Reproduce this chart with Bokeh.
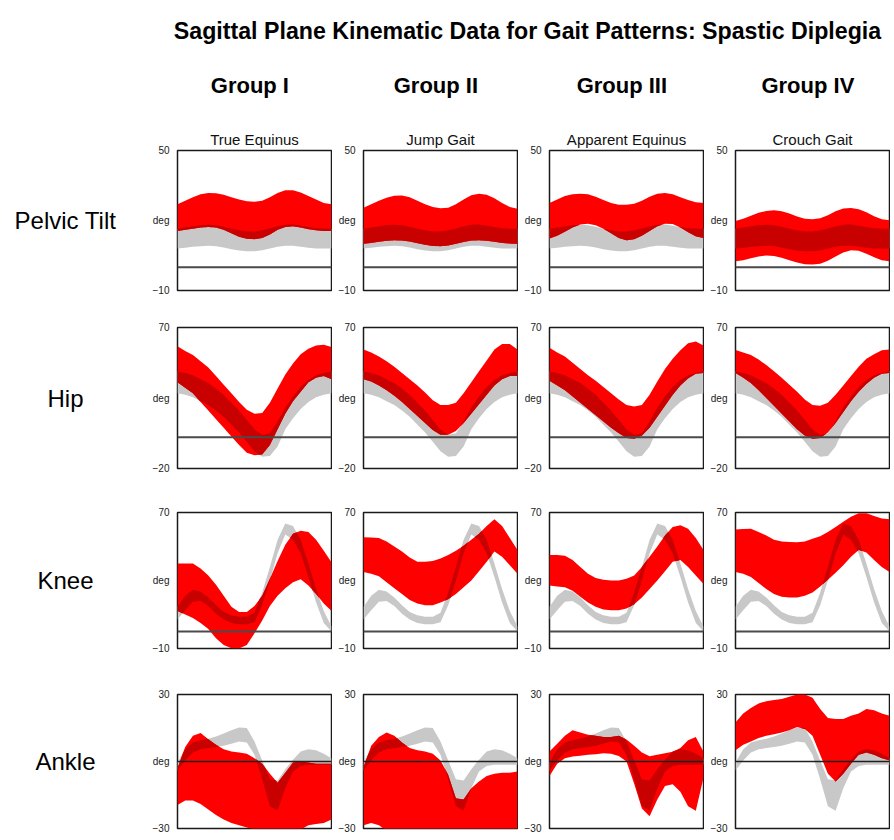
import numpy as np
from bokeh.plotting import figure
from bokeh.layouts import row, column
from bokeh.models import Range1d, FixedTicker, Span, Title, Spacer
from bokeh.embed import file_html
from bokeh.resources import INLINE
from bokeh.core.properties import value

# ---------------- data (percent of gait cycle, degrees) ----------------
pct = [0, 5, 10, 15, 20, 25, 30, 35, 40, 45, 50, 55, 60, 65, 70, 75, 80, 85, 90, 95, 100]

groups = ["Group I", "Group II", "Group III", "Group IV"]
patterns = ["True Equinus", "Jump Gait", "Apparent Equinus", "Crouch Gait"]
joints = ["Pelvic Tilt", "Hip", "Knee", "Ankle"]
y_limits = [(-10, 50), (-20, 70), (-10, 70), (-30, 30)]
deg_ticks = [20, 25, 30, 0]

# Pelvic tilt
pelvic_norm_hi = [16.5, 17.0, 17.5, 18.0, 18.2, 18.0, 17.3, 16.5, 15.8, 15.3, 15.3, 15.8, 16.6, 17.5, 18.2, 18.3, 17.8, 17.2, 16.7, 16.5, 16.5]
pelvic_norm_lo = [8.0, 8.3, 8.7, 9.0, 9.2, 9.0, 8.4, 7.7, 7.1, 6.8, 6.8, 7.2, 8.0, 8.8, 9.2, 9.2, 8.8, 8.3, 8.0, 8.0, 8.0]
pelvic_g1_hi = [27.0, 28.5, 30.0, 31.3, 31.8, 31.7, 31.0, 30.0, 29.0, 28.2, 28.0, 28.5, 30.0, 31.8, 33.0, 33.0, 32.0, 30.5, 29.0, 27.5, 27.0]
pelvic_g1_lo = [15.5, 16.0, 16.5, 17.0, 17.2, 17.0, 16.0, 14.5, 13.0, 12.2, 12.0, 12.5, 14.0, 16.0, 17.2, 17.5, 17.0, 16.3, 15.8, 15.5, 15.5]
pelvic_g2_hi = [25.5, 27.0, 28.5, 29.8, 30.6, 30.7, 30.0, 28.5, 27.0, 25.8, 25.2, 25.5, 27.0, 29.0, 30.8, 31.5, 31.0, 29.5, 27.5, 25.8, 25.0]
pelvic_g2_lo = [10.0, 10.4, 10.9, 11.3, 11.5, 11.4, 11.0, 10.3, 9.6, 9.1, 9.0, 9.3, 10.0, 10.8, 11.4, 11.5, 11.3, 10.9, 10.4, 10.1, 10.0]
pelvic_g3_hi = [27.5, 29.0, 30.5, 31.3, 31.5, 31.2, 30.2, 28.8, 27.5, 26.8, 26.7, 27.2, 28.5, 30.2, 31.5, 31.8, 31.2, 30.0, 28.8, 27.8, 27.5]
pelvic_g3_lo = [12.3, 13.5, 15.2, 17.0, 18.3, 18.6, 18.0, 16.5, 14.5, 12.5, 11.5, 12.0, 13.5, 15.5, 17.5, 18.6, 18.5, 17.0, 15.0, 13.2, 12.5]
pelvic_g4_hi = [19.8, 20.7, 22.0, 23.3, 24.1, 24.4, 24.0, 23.0, 21.7, 20.8, 20.5, 21.0, 22.3, 24.0, 25.1, 25.4, 24.8, 23.5, 21.8, 20.5, 20.1]
pelvic_g4_lo = [2.5, 3.0, 3.8, 4.6, 5.0, 4.8, 4.0, 3.0, 2.0, 1.3, 1.1, 1.5, 2.8, 4.6, 6.3, 7.2, 7.0, 5.8, 4.3, 3.0, 2.5]

# Hip
hip_norm_hi = [42.0, 41.0, 39.5, 37.0, 34.5, 31.0, 27.0, 22.0, 17.0, 11.0, 5.0, 1.5, 2.5, 10.0, 19.0, 26.0, 32.0, 36.5, 39.5, 41.0, 42.0]
hip_norm_lo = [28.0, 27.0, 25.5, 23.0, 20.5, 17.0, 13.0, 8.0, 3.0, -3.0, -9.0, -12.5, -12.0, -6.0, 5.0, 12.0, 18.0, 22.5, 25.5, 27.0, 28.0]
hip_g1_hi = [58.0, 55.0, 52.5, 48.5, 44.5, 39.0, 33.5, 28.0, 22.5, 17.5, 15.0, 15.5, 22.0, 31.0, 40.0, 47.0, 53.0, 56.5, 58.5, 59.0, 57.5]
hip_g1_lo = [35.0, 31.5, 28.0, 22.5, 17.0, 11.5, 6.0, 0.5, -5.0, -10.0, -11.5, -11.0, -5.0, 5.0, 15.0, 23.0, 29.0, 35.0, 38.0, 39.0, 37.0]
hip_g2_hi = [56.0, 54.0, 51.5, 48.5, 45.0, 41.0, 37.0, 33.0, 28.5, 23.5, 20.5, 20.5, 22.0, 28.0, 35.0, 42.0, 49.0, 56.0, 59.5, 59.5, 56.0]
hip_g2_lo = [37.0, 35.5, 33.0, 30.0, 26.5, 22.5, 18.0, 13.5, 9.0, 4.5, 1.5, 1.5, 4.0, 9.0, 15.0, 21.0, 27.0, 33.0, 37.0, 39.0, 39.0]
hip_g3_hi = [57.0, 54.0, 51.5, 47.5, 43.5, 39.5, 36.0, 32.0, 28.0, 24.0, 20.5, 19.5, 20.5, 27.0, 35.5, 43.5, 50.0, 55.5, 60.0, 61.0, 58.5]
hip_g3_lo = [36.0, 33.0, 30.0, 26.0, 22.0, 18.0, 14.0, 10.0, 6.0, 2.5, -0.5, -1.0, 1.0, 6.0, 13.0, 20.0, 27.0, 33.0, 37.5, 40.5, 41.0]
hip_g4_hi = [55.7, 54.0, 52.5, 49.5, 46.0, 42.0, 38.0, 33.5, 29.0, 24.0, 20.5, 20.0, 22.0, 27.0, 33.0, 39.0, 45.0, 50.0, 53.0, 55.5, 56.0]
hip_g4_lo = [41.0, 38.0, 34.5, 30.0, 25.0, 20.0, 15.0, 10.0, 5.0, 1.0, -1.0, -0.5, 3.0, 9.0, 16.0, 23.0, 29.0, 34.0, 38.0, 40.5, 41.0]

# Knee
knee_norm_hi = [14.5, 21.0, 24.5, 23.5, 20.0, 15.5, 11.5, 9.5, 8.7, 8.7, 11.0, 23.0, 38.0, 54.0, 63.5, 62.0, 54.0, 40.0, 25.0, 12.0, 3.0]
knee_norm_lo = [7.0, 12.5, 17.5, 18.0, 15.0, 10.5, 7.0, 5.0, 4.3, 4.3, 5.5, 15.5, 30.0, 46.0, 57.0, 54.0, 46.0, 32.0, 17.0, 5.0, 0.0]
knee_g1_hi = [40.0, 40.0, 40.0, 37.0, 33.0, 27.5, 21.0, 14.5, 11.5, 11.5, 15.0, 21.0, 31.0, 41.5, 51.0, 57.5, 59.3, 58.5, 54.0, 47.5, 40.7]
knee_g1_lo = [12.0, 10.0, 8.0, 5.0, 1.5, -4.0, -8.0, -9.8, -10.0, -8.0, -1.0, 6.5, 15.0, 21.0, 25.5, 29.0, 30.8, 27.0, 22.0, 16.5, 12.0]
knee_g2_hi = [55.5, 55.3, 55.0, 53.0, 50.0, 47.0, 43.5, 41.0, 41.0, 41.5, 43.0, 45.0, 47.5, 50.5, 54.0, 57.5, 62.0, 66.0, 62.0, 55.0, 48.0]
knee_g2_lo = [35.0, 34.0, 32.5, 29.0, 25.5, 22.0, 18.5, 16.5, 15.5, 15.5, 17.0, 19.0, 22.0, 26.0, 30.0, 35.5, 41.0, 47.0, 44.0, 39.0, 34.0]
knee_g3_hi = [45.0, 45.0, 44.5, 42.0, 38.0, 34.0, 31.5, 30.5, 30.0, 30.0, 31.0, 33.0, 38.0, 44.0, 50.0, 56.5, 61.5, 62.5, 60.5, 55.0, 48.0]
knee_g3_lo = [27.0, 26.5, 26.0, 24.0, 20.5, 17.0, 14.5, 13.0, 12.5, 12.5, 13.5, 16.0, 20.0, 25.0, 30.0, 35.5, 41.0, 42.0, 38.0, 33.0, 28.0]
knee_g4_hi = [60.0, 60.3, 60.4, 58.5, 56.5, 54.0, 53.0, 52.6, 52.5, 53.0, 54.5, 56.0, 58.5, 61.5, 64.5, 67.5, 69.5, 69.5, 68.0, 66.5, 66.0]
knee_g4_lo = [35.0, 34.0, 32.0, 28.5, 25.0, 22.0, 20.5, 20.0, 20.0, 21.0, 23.0, 26.5, 30.5, 34.5, 39.0, 44.0, 48.0, 46.5, 42.0, 38.0, 35.0]

# Ankle
ankle_norm_hi = [-0.5, 5.5, 8.5, 9.5, 10.2, 11.2, 12.5, 14.0, 15.2, 15.0, 9.0, 0.5, -8.0, -8.5, -3.5, 0.8, 4.5, 5.5, 5.0, 3.5, 1.5]
ankle_norm_lo = [-4.0, 0.5, 4.0, 5.5, 6.0, 6.5, 7.0, 8.0, 9.0, 8.5, 3.0, -8.0, -20.0, -22.0, -12.0, -4.5, -2.0, -1.5, -1.5, -1.5, -1.5]
ankle_g1_hi = [-3.0, 6.5, 11.5, 12.8, 10.0, 7.5, 5.5, 4.5, 4.0, 3.5, 1.5, -1.0, -5.5, -9.5, -5.0, -0.5, 0.0, -0.5, -1.0, -1.0, -1.0]
ankle_g1_lo = [-19.5, -17.5, -17.5, -19.0, -21.5, -24.0, -26.0, -27.5, -28.5, -29.5, -30.5, -31.0, -31.0, -31.0, -31.0, -31.0, -30.5, -28.5, -28.0, -27.5, -26.0]
ankle_g2_hi = [-2.5, 7.0, 11.0, 13.0, 11.5, 8.5, 6.0, 5.0, 4.5, 3.5, 0.5, -6.0, -16.5, -17.0, -12.0, -9.0, -6.5, -5.5, -5.0, -5.0, -4.5]
ankle_g2_lo = [-28.5, -27.5, -28.5, -31.0, -32.0, -32.0, -32.0, -32.0, -32.0, -32.0, -32.0, -32.0, -32.0, -32.0, -32.0, -32.0, -32.0, -32.0, -32.0, -32.0, -32.0]
ankle_g3_hi = [4.5, 8.0, 11.5, 14.0, 13.0, 12.0, 11.5, 11.0, 11.0, 11.5, 9.8, 7.0, 4.0, 2.3, 3.0, 3.7, 4.4, 6.0, 9.5, 11.0, 4.4]
ankle_g3_lo = [-6.5, -1.0, 1.5, 2.2, 2.6, 3.0, 3.3, 3.7, 3.5, 2.5, 0.0, -10.0, -21.0, -24.5, -17.0, -11.0, -10.2, -13.5, -20.0, -22.0, -7.3]
ankle_g4_hi = [17.5, 21.5, 24.0, 26.0, 27.0, 27.5, 28.0, 29.0, 30.0, 30.0, 28.5, 23.5, 19.5, 19.0, 19.0, 20.5, 21.5, 23.5, 23.0, 21.5, 20.5]
ankle_g4_lo = [5.0, 7.5, 9.0, 10.5, 11.5, 12.2, 13.0, 14.0, 15.5, 14.5, 11.5, 3.0, -5.5, -9.0, -5.5, -1.0, 3.0, 4.0, 3.0, 1.5, 0.5]

normals = [
    (pelvic_norm_lo, pelvic_norm_hi),
    (hip_norm_lo, hip_norm_hi),
    (knee_norm_lo, knee_norm_hi),
    (ankle_norm_lo, ankle_norm_hi),
]
patients = [
    [(pelvic_g1_lo, pelvic_g1_hi), (pelvic_g2_lo, pelvic_g2_hi), (pelvic_g3_lo, pelvic_g3_hi), (pelvic_g4_lo, pelvic_g4_hi)],
    [(hip_g1_lo, hip_g1_hi), (hip_g2_lo, hip_g2_hi), (hip_g3_lo, hip_g3_hi), (hip_g4_lo, hip_g4_hi)],
    [(knee_g1_lo, knee_g1_hi), (knee_g2_lo, knee_g2_hi), (knee_g3_lo, knee_g3_hi), (knee_g4_lo, knee_g4_hi)],
    [(ankle_g1_lo, ankle_g1_hi), (ankle_g2_lo, ankle_g2_hi), (ankle_g3_lo, ankle_g3_hi), (ankle_g4_lo, ankle_g4_hi)],
]

# ---------------- style / geometry ----------------
FONT = "Liberation Sans"
RED = "#ff0000"
GREY = "#c8c8c8"
DARK = "#c80000"
LABEL_W = 146
PANEL_W = 186
BL, BR = 31, 1
TITLE_H = 56
HEADER_H = 68
row_geom = [(26, 140, 31), (6, 141, 38), (6, 136, 40), (6, 134, 10)]  # top border, frame, bottom border

fine = np.linspace(0, 100, 801)


def overlap(a_lo, a_hi, b_lo, b_hi):
    lo = np.maximum(np.interp(fine, pct, a_lo), np.interp(fine, pct, b_lo))
    hi = np.minimum(np.interp(fine, pct, a_hi), np.interp(fine, pct, b_hi))
    return lo, np.maximum(hi, lo)


def blank_fig(width, height, **kw):
    p = figure(width=width, height=height, x_range=Range1d(0, 1), y_range=Range1d(0, 1),
               output_backend="svg", toolbar_location=None,
               x_axis_location=None, y_axis_location=None, **kw)
    p.outline_line_color = None
    p.grid.visible = False
    return p


def make_panel(r, c):
    top, fh, bot = row_geom[r]
    lo, hi = y_limits[r]
    p = figure(width=PANEL_W, height=top + fh + bot,
               x_range=Range1d(0, 100), y_range=Range1d(lo, hi),
               output_backend="svg", toolbar_location=None, x_axis_location=None,
               min_border_left=BL, min_border_right=BR,
               min_border_top=top, min_border_bottom=bot)
    p.grid.visible = False
    p.outline_line_color = "#1a1a1a"
    p.outline_line_width = 1.5
    ax = p.yaxis[0]
    ax.ticker = FixedTicker(ticks=[lo, deg_ticks[r], hi])
    ax.major_label_overrides = {deg_ticks[r]: "deg"}
    ax.axis_line_color = None
    ax.major_tick_line_color = None
    ax.minor_tick_line_color = None
    ax.major_label_standoff = 2
    ax.major_label_text_font = FONT
    ax.major_label_text_font_size = "10px"
    ax.major_label_text_color = "#1a1a1a"

    n_lo, n_hi = normals[r]
    g_lo, g_hi = patients[r][c]
    p.varea(x=pct, y1=n_lo, y2=n_hi, fill_color=GREY)
    p.varea(x=pct, y1=g_lo, y2=g_hi, fill_color=RED)
    o_lo, o_hi = overlap(n_lo, n_hi, g_lo, g_hi)
    p.varea(x=fine, y1=o_lo, y2=o_hi, fill_color=DARK)

    if r == 3:
        p.add_layout(Span(location=0, dimension="width", line_color="#202020", line_width=1.5))
    else:
        p.add_layout(Span(location=0, dimension="width", line_color="#4a4a4a", line_width=2))

    if r == 0:
        p.add_layout(Title(text=patterns[c], align="center", text_font=FONT,
                           text_font_size="15px", text_font_style="normal",
                           text_color="#111111", standoff=6), "above")
    return p


# main title
title_fig = blank_fig(894, TITLE_H, min_border_left=160, min_border_right=0,
                      min_border_top=0, min_border_bottom=0)
title_fig.text(x=[0.5], y=[0.464], text=["Sagittal Plane Kinematic Data for Gait Patterns: Spastic Diplegia"],
               text_align="center", text_baseline="middle", text_font=value(FONT),
               text_font_size="23.2px", text_font_style="bold", text_color="black")

# group headers
headers = []
for c in range(4):
    h = blank_fig(PANEL_W, HEADER_H, min_border_left=BL, min_border_right=BR,
                  min_border_top=0, min_border_bottom=0)
    h.text(x=[0.47], y=[0.574], text=[groups[c]], text_align="center", text_baseline="middle",
           text_font=value(FONT), text_font_size="22px", text_font_style="bold", text_color="black")
    headers.append(h)

rows = []
for r in range(4):
    top, fh, bot = row_geom[r]
    lab = blank_fig(LABEL_W, top + fh + bot, min_border_left=0, min_border_right=0,
                    min_border_top=top, min_border_bottom=bot)
    lab.text(x=[0.445], y=[0.5], text=[joints[r]], text_align="center", text_baseline="middle",
             text_font=value(FONT), text_font_size="24px", text_color="black")
    rows.append(row(lab, *[make_panel(r, c) for c in range(4)]))

layout = column(title_fig, row(Spacer(width=LABEL_W, height=HEADER_H), *headers), *rows)

open("out.html", "w").write(file_html(layout, INLINE))
